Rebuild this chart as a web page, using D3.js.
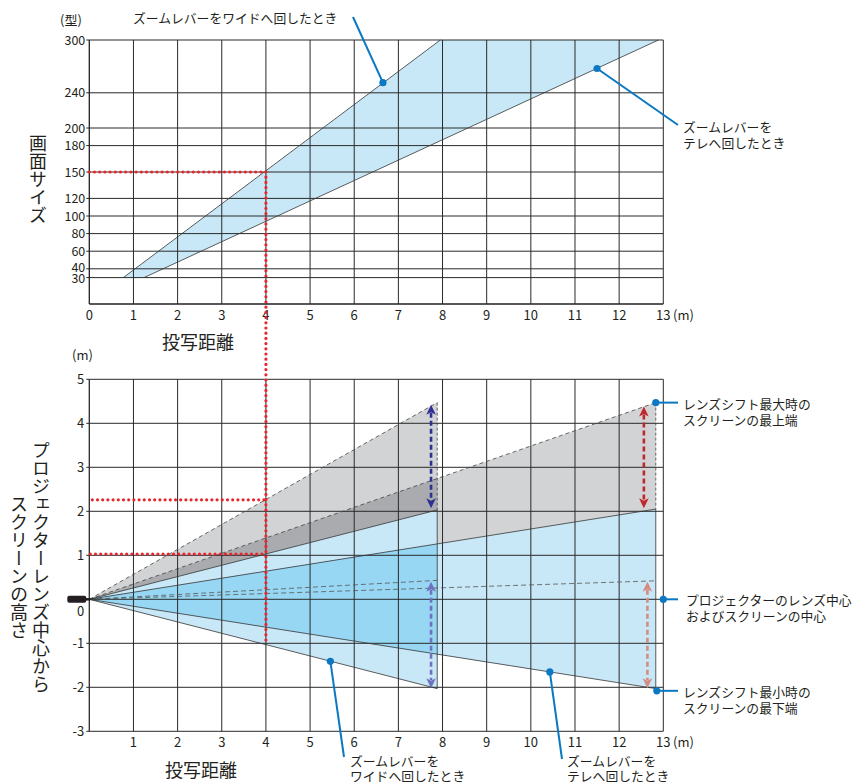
<!DOCTYPE html>
<html>
<head>
<meta charset="utf-8">
<script src="https://cdn.jsdelivr.net/npm/d3@7"></script>
<style>
	body { margin: 0; background: #fff; }
	svg { display: block; }
	text { font-family: "Noto Sans CJK JP", "Noto Sans", sans-serif; fill: #231f20; }
</style>
</head>
<body>
<svg id="chart" width="859" height="782"></svg>
<script>
"use strict"

// top chart : screen size vs throw distance
var distTicks = [0, 1, 2, 3, 4, 5, 6, 7, 8, 9, 10, 11, 12, 13];
var sizeTicks = [30, 40, 60, 80, 100, 120, 150, 180, 200, 240, 300];
var wideSize = [[0.77, 30], [7.95, 300]];
var teleSize = [[1.24, 30], [12.89, 300]];

// bottom chart : height from lens centre, [wide, tele]
var heightTicks = [-3, -2, -1, 0, 1, 2, 3, 4, 5];
var screenDist = [7.88, 12.83];
var shiftTopMax = [4.47, 4.47];
var screenTop = [2.03, 2.05];
var screenBottom = [-2.03, -2.03];
var centerDash = [0.43, 0.42];

// shift range arrows : x, from, to
var arrowX = [7.74, 7.74, 12.56, 12.64];
var arrowFrom = [2.07, -2.02, 2.07, -2.02];
var arrowTo = [4.42, 0.40, 4.38, 0.40];

// worked example (150 at 4 m)
var exDist = 4, exSize = 150, exLow = 1.03, exHigh = 2.26, exBottom = -1;

var svg = d3.select("#chart");
var x = d3.scaleLinear().domain([0, 13]).range([89.3, 663.3]);
var yTop = d3.scaleLinear().domain([0, 300]).range([304, 40]);
var yBot = d3.scaleLinear().domain([-3, 5]).range([731.3, 379.3]);

var gridColor = "#2a2a2a";
var leadColor = "#0a78c2";

// ---------- top chart ----------
var gTop = svg.append("g");
gTop.append("path")
	.attr("d", d3.line()([
		[x(wideSize[0][0]), yTop(wideSize[0][1])],
		[x(wideSize[1][0]), yTop(wideSize[1][1])],
		[x(teleSize[1][0]), yTop(teleSize[1][1])],
		[x(teleSize[0][0]), yTop(teleSize[0][1])]]) + "Z")
	.attr("fill", "#c8e8f7")
	;
gTop.selectAll(".hg").data(sizeTicks).enter().append("line")
	.attr("x1", x(0) - 3).attr("x2", x(13))
	.attr("y1", function(d) { return yTop(d); })
	.attr("y2", function(d) { return yTop(d); })
	.attr("stroke", gridColor).attr("stroke-width", 1)
	;
gTop.selectAll(".vg").data(distTicks.slice(1)).enter().append("line")
	.attr("x1", function(d) { return x(d); })
	.attr("x2", function(d) { return x(d); })
	.attr("y1", yTop(300)).attr("y2", yTop(0))
	.attr("stroke", gridColor).attr("stroke-width", 1)
	;
gTop.append("line")
	.attr("x1", x(0)).attr("x2", x(0)).attr("y1", yTop(300)).attr("y2", yTop(0))
	.attr("stroke", "#231f20").attr("stroke-width", 1.3);
gTop.append("line")
	.attr("x1", x(0)).attr("x2", x(13)).attr("y1", yTop(0)).attr("y2", yTop(0))
	.attr("stroke", "#231f20").attr("stroke-width", 1.3);

[wideSize, teleSize].forEach(function(s) {
	gTop.append("line")
		.attr("x1", x(s[0][0])).attr("y1", yTop(s[0][1]))
		.attr("x2", x(s[1][0])).attr("y2", yTop(s[1][1]))
		.attr("stroke", "#333").attr("stroke-width", 0.8);
});

gTop.selectAll(".yl").data(sizeTicks).enter().append("text")
	.attr("x", x(0) - 4)
	.attr("y", function(d) { return yTop(d) + (d == 40 ? -1 : d == 30 ? 1 : 0); })
	.attr("dy", "0.36em")
	.attr("text-anchor", "end")
	.attr("font-size", 12.5)
	.text(function(d) { return d; })
	;
gTop.selectAll(".xl").data(distTicks).enter().append("text")
	.attr("x", function(d) { return x(d); })
	.attr("y", 320)
	.attr("text-anchor", "middle")
	.attr("font-size", 13)
	.text(function(d) { return d; })
	;
gTop.append("text").attr("x", 673).attr("y", 320).attr("font-size", 13).text("(m)");
gTop.append("text").attr("x", 60).attr("y", 25).attr("font-size", 13).text("(型)");
gTop.append("text").attr("x", 198).attr("y", 349).attr("font-size", 18)
	.attr("text-anchor", "middle").text("投写距離");
gTop.append("text").attr("x", 38).attr("y", 179).attr("font-size", 18)
	.attr("text-anchor", "middle").style("writing-mode", "vertical-rl").text("画面サイズ");

// ---------- bottom chart ----------
var gBot = svg.append("g");
var o = [x(0), yBot(0)];
function tri(i, yy) {
	return d3.line()([o, [x(screenDist[i]), yBot(yy[i])], [x(screenDist[i]), yBot(screenTop[i])]]) + "Z";
}
function cone(i) {
	return d3.line()([o, [x(screenDist[i]), yBot(screenTop[i])], [x(screenDist[i]), yBot(screenBottom[i])]]) + "Z";
}
var defs = svg.append("defs");
defs.append("clipPath").attr("id", "clipGrayWide").append("path").attr("d", tri(0, shiftTopMax));
defs.append("clipPath").attr("id", "clipBlueWide").append("path").attr("d", cone(0));

gBot.append("path").attr("d", tri(0, shiftTopMax)).attr("fill", "#d1d3d4");
gBot.append("path").attr("d", tri(1, shiftTopMax)).attr("fill", "#d1d3d4");
gBot.append("path").attr("d", tri(1, shiftTopMax)).attr("fill", "#a9abae")
	.attr("clip-path", "url(#clipGrayWide)");
gBot.append("path").attr("d", cone(1)).attr("fill", "#c8e8f7");
gBot.append("path").attr("d", cone(0)).attr("fill", "#c8e8f7");
gBot.append("path").attr("d", cone(1)).attr("fill", "#97d7f4")
	.attr("clip-path", "url(#clipBlueWide)");

gBot.selectAll(".hg").data(heightTicks).enter().append("line")
	.attr("x1", x(0) - 3).attr("x2", x(13))
	.attr("y1", function(d) { return yBot(d); })
	.attr("y2", function(d) { return yBot(d); })
	.attr("stroke", gridColor).attr("stroke-width", 1)
	;
gBot.selectAll(".vg").data(distTicks).enter().append("line")
	.attr("x1", function(d) { return x(d); })
	.attr("x2", function(d) { return x(d); })
	.attr("y1", yBot(5)).attr("y2", yBot(-3))
	.attr("stroke", gridColor).attr("stroke-width", function(d) { return d == 0 ? 1.3 : 1; })
	;

// rays from the lens
[0, 1].forEach(function(i) {
	var sx = x(screenDist[i]);
	function ray(v, dash, col) {
		gBot.append("line")
			.attr("x1", o[0]).attr("y1", o[1])
			.attr("x2", sx).attr("y2", yBot(v))
			.attr("stroke", col).attr("stroke-width", 0.8)
			.attr("stroke-dasharray", dash);
	}
	ray(shiftTopMax[i], "4 3", "#444");
	ray(centerDash[i], "5 3", "#555");
	ray(screenTop[i], null, "#333");
	ray(screenBottom[i], null, "#333");
	gBot.append("line")
		.attr("x1", sx).attr("x2", sx)
		.attr("y1", yBot(shiftTopMax[i])).attr("y2", yBot(screenTop[i]))
		.attr("stroke", "#444").attr("stroke-width", 0.8).attr("stroke-dasharray", "3 2");
	gBot.append("line")
		.attr("x1", sx).attr("x2", sx)
		.attr("y1", yBot(screenTop[i])).attr("y2", yBot(screenBottom[i]))
		.attr("stroke", "#333").attr("stroke-width", 0.8);
});

// projector
gBot.append("rect")
	.attr("x", x(0) - 22).attr("y", yBot(0) - 3.5)
	.attr("width", 19).attr("height", 7).attr("rx", 2)
	.attr("fill", "#231f20");
gBot.append("line")
	.attr("x1", x(0) - 4).attr("x2", x(0) + 1)
	.attr("y1", yBot(0)).attr("y2", yBot(0))
	.attr("stroke", "#231f20").attr("stroke-width", 2.5);

// shift arrows
var arrowColors = ["#2e3192", "#6f73bf", "#c1272d", "#d68b80"];
arrowX.forEach(function(ax, i) {
	var px = x(ax), y1 = yBot(arrowTo[i]), y2 = yBot(arrowFrom[i]), h = 10;
	gBot.append("line")
		.attr("x1", px).attr("x2", px)
		.attr("y1", y1 + h - 2).attr("y2", y2 - h + 2)
		.attr("stroke", arrowColors[i]).attr("stroke-width", 2.6)
		.attr("stroke-dasharray", "5 3");
	gBot.append("path")
		.attr("d", "M" + px + "," + y1 + " l-4.8," + h + " l4.8,-2.5 l4.8,2.5 Z")
		.attr("fill", arrowColors[i]);
	gBot.append("path")
		.attr("d", "M" + px + "," + y2 + " l-4.8," + (-h) + " l4.8,2.5 l4.8,-2.5 Z")
		.attr("fill", arrowColors[i]);
});

gBot.selectAll(".yl").data(heightTicks).enter().append("text")
	.attr("x", x(0) - 5)
	.attr("y", function(d) { return yBot(d) + (d == 0 ? 12 : 0); })
	.attr("dy", "0.36em")
	.attr("text-anchor", "end")
	.attr("font-size", 13)
	.text(function(d) { return d; })
	;
gBot.selectAll(".xl").data(distTicks.slice(1)).enter().append("text")
	.attr("x", function(d) { return x(d); })
	.attr("y", 747)
	.attr("text-anchor", "middle")
	.attr("font-size", 13)
	.text(function(d) { return d; })
	;
gBot.append("text").attr("x", 673).attr("y", 747).attr("font-size", 13).text("(m)");
gBot.append("text").attr("x", 72).attr("y", 360).attr("font-size", 13).text("(m)");
gBot.append("text").attr("x", 201).attr("y", 777).attr("font-size", 18)
	.attr("text-anchor", "middle").text("投写距離");
gBot.append("text").attr("x", 41).attr("y", 567).attr("font-size", 18)
	.attr("text-anchor", "middle").style("writing-mode", "vertical-rl").text("プロジェクターレンズ中心から");
gBot.append("text").attr("x", 19).attr("y", 567).attr("font-size", 18)
	.attr("text-anchor", "middle").style("writing-mode", "vertical-rl").text("スクリーンの高さ");

// ---------- red example guides ----------
var gRed = svg.append("g")
	.attr("stroke", "#e8262b").attr("stroke-width", 3.2)
	.attr("stroke-linecap", "round").attr("stroke-dasharray", "0 5.2").attr("fill", "none");
gRed.append("line").attr("x1", x(0)).attr("x2", x(exDist)).attr("y1", yTop(exSize)).attr("y2", yTop(exSize));
gRed.append("line").attr("x1", x(exDist)).attr("x2", x(exDist)).attr("y1", yTop(exSize)).attr("y2", yBot(exBottom));
gRed.append("line").attr("x1", x(0) + 3).attr("x2", x(exDist)).attr("y1", yBot(exHigh)).attr("y2", yBot(exHigh));
gRed.append("line").attr("x1", x(0) + 1).attr("x2", x(exDist)).attr("y1", yBot(exLow)).attr("y2", yBot(exLow));

// ---------- callouts ----------
function callout(dx, dy, lx, ly, lines, tx, ty, lh) {
	svg.append("line")
		.attr("x1", dx).attr("y1", dy).attr("x2", lx).attr("y2", ly)
		.attr("stroke", leadColor).attr("stroke-width", 2);
	svg.append("circle").attr("cx", dx).attr("cy", dy).attr("r", 3.6).attr("fill", leadColor);
	lines.forEach(function(t, k) {
		svg.append("text").attr("x", tx).attr("y", ty + k * lh)
			.attr("dy", "0.36em").attr("font-size", 12.8).text(t);
	});
}
callout(x(6.65), yTop(251.5), 353, 17, ["ズームレバーをワイドへ回したとき"], 133, 18, 0);
callout(x(11.5), yTop(267.6), 678, 125, ["ズームレバーを", "テレへ回したとき"], 683, 127, 16.5);
callout(x(screenDist[1]), yBot(shiftTopMax[1]), 678, yBot(shiftTopMax[1]),
	["レンズシフト最大時の", "スクリーンの最上端"], 683, 404, 16.5);
callout(x(13), yBot(0), 678, yBot(0),
	["プロジェクターのレンズ中心", "およびスクリーンの中心"], 686, 600, 16.5);
callout(x(screenDist[1]) + 1, yBot(-2.08), 678, yBot(-2.08),
	["レンズシフト最小時の", "スクリーンの最下端"], 683, 692, 16.5);
callout(x(5.46), yBot(-1.41), 344, 757, ["ズームレバーを", "ワイドへ回したとき"], 350, 761, 15.5);
callout(x(10.43), yBot(-1.65), 562, 759, ["ズームレバーを", "テレへ回したとき"], 567, 761, 15.5);
</script>
</body>
</html>
